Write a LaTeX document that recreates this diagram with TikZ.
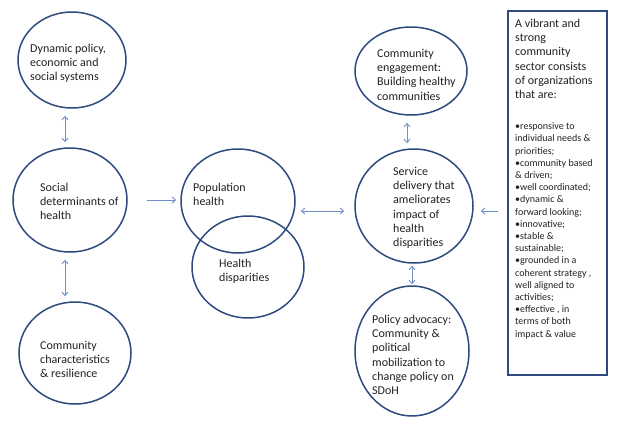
\documentclass[tikz,border=0pt]{standalone}
\usepackage{fontspec}
\setmainfont{Carlito}
\usetikzlibrary{arrows.meta,shapes.geometric}
\definecolor{navy}{HTML}{2F4A7E}
\definecolor{arrblue}{HTML}{6F8FC9}
\definecolor{txt}{HTML}{222222}
\tikzset{
  ell/.style={draw=navy, line width=1.5pt, ellipse, inner sep=0pt},
  lbl/.style={anchor=north west, inner sep=0pt, align=left, text=txt,
    font=\fontsize{12}{14.3}\selectfont},
  small/.style={anchor=north west, inner sep=0pt, align=left, text=txt,
    font=\fontsize{10}{12.2}\selectfont},
  arr/.style={draw=arrblue, line width=0.9pt, -{Straight Barb[length=3.5pt,width=6pt]}},
  dbl/.style={draw=arrblue, line width=0.9pt, {Straight Barb[length=3.5pt,width=6pt]}-{Straight Barb[length=3.5pt,width=6pt]}}
}
\begin{document}
\begin{tikzpicture}[x=1pt,y=-1pt]
\useasboundingbox[fill=white] (0,0) rectangle (622,424);
% ellipses
\node[ell, minimum width=108pt, minimum height=96pt] (dyn) at (72,60) {};
\node[ell, minimum width=114pt, minimum height=104pt] (sdh) at (70,200) {};
\node[ell, minimum width=112pt, minimum height=102pt] (cc) at (75,353) {};
\node[ell, minimum width=114pt, minimum height=104pt] (pop) at (238,201) {};
\node[ell, minimum width=112pt, minimum height=102pt] (hd) at (248,267) {};
\node[ell, minimum width=112pt, minimum height=88pt] (ce) at (411,71) {};
\node[ell, minimum width=118pt, minimum height=114pt] (sd) at (414,206) {};
\node[ell, minimum width=114pt, minimum height=130pt] (pa) at (412,351) {};
\node[draw=navy, line width=1.6pt, minimum width=99pt, minimum height=364pt, inner sep=0pt] (box) at (557.5,193) {};
% texts
\node[lbl] (tdyn) at (30,42) {\strut Dynamic policy,\\economic and\\social systems};
\node[lbl] (tsdh) at (40,181) {\strut Social\\determinants of\\health};
\node[lbl] (tcc) at (40,339) {\strut Community\\characteristics\\\& resilience};
\node[lbl] (tpop) at (193,181) {\strut Population\\health};
\node[lbl] (thd) at (219,257) {\strut Health\\disparities};
\node[lbl] (tce) at (377,47) {\strut Community\\engagement:\\Building healthy\\communities};
\node[lbl] (tsd) at (393,165) {\strut Service\\delivery that\\ameliorates\\impact of\\health\\disparities};
\node[lbl] (tpa) at (372,313) {\strut Policy advocacy:\\Community \&\\political\\mobilization to\\change policy on\\SDoH};
\node[lbl] (tbox) at (515,17) {\strut A vibrant and\\strong\\community\\sector consists\\of organizations\\that are:};
\node[small] (tbul) at (515,121) {\strut •responsive to\\individual needs \&\\priorities;\\•community based\\\& driven;\\•well coordinated;\\•dynamic \&\\forward looking;\\•innovative;\\•stable \&\\sustainable;\\•grounded in a\\coherent strategy ,\\well aligned to\\activities;\\•effective , in\\terms of both\\impact \& value};
% connectors
\draw[dbl] ([shift={(-7,7)}]dyn.south) -- ([shift={(-5,-5)}]sdh.north);
\draw[dbl] ([shift={(-5,7)}]sdh.south) -- ([shift={(-10,-5)}]cc.north);
\draw[arr] ([shift={(19,0)}]sdh.east) -- ([shift={(-4,-1)}]pop.west);
\draw[dbl] ([shift={(5,10)}]pop.east) -- ([shift={(-10,5)}]sd.west);
\draw[arr] ([shift={(-9,18)}]box.west) -- ([shift={(7,5)}]sd.east);
\draw[dbl] ([shift={(-4,7)}]ce.south) -- ([shift={(-7,-5)}]sd.north);
\draw[dbl] ([shift={(-2,2)}]sd.south) -- ([shift={(0,-1)}]pa.north);
\end{tikzpicture}
\end{document}
